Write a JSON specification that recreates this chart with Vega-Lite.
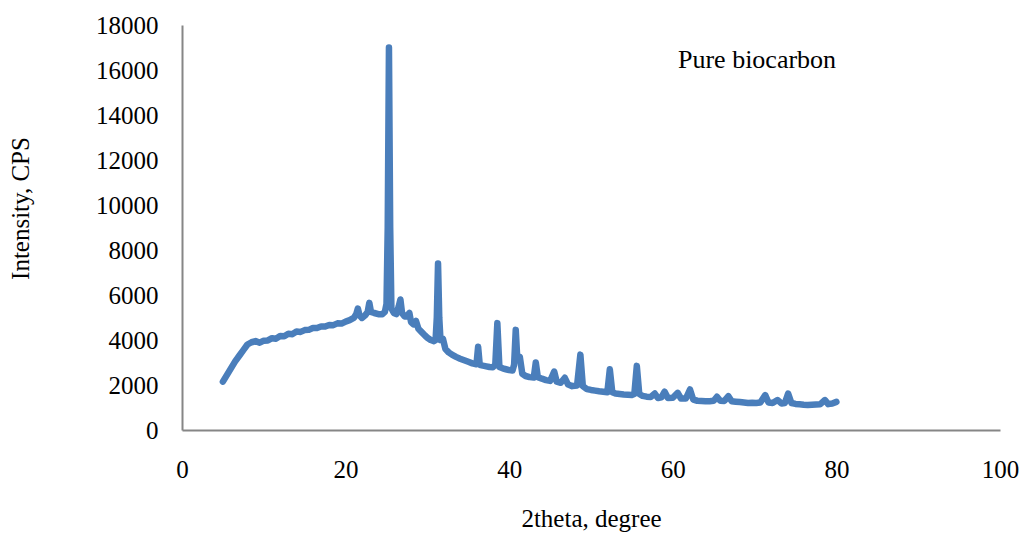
{
  "$schema": "https://vega.github.io/schema/vega-lite/v6.json",
  "autosize": "none",
  "width": 818,
  "height": 405,
  "padding": {"left": 182, "top": 25, "right": 23, "bottom": 103},
  "background": "white",
  "config": {
    "view": {"stroke": null},
    "font": "Liberation Serif",
    "axis": {"labelFont": "Liberation Serif", "titleFont": "Liberation Serif", "labelFontSize": 25, "titleFontSize": 25, "labelColor": "black", "titleColor": "black", "titleFontWeight": "normal", "grid": false, "ticks": false, "labelFlush": false, "labelOverlap": false, "domainColor": "#868686", "domainWidth": 2}
  },
  "layer": [
    {
      "data": {"values": [
        {"x":5.0,"y":2150},{"x":5.5,"y":2450},{"x":6.0,"y":2750},{"x":6.5,"y":3050},{"x":7.0,"y":3300},{"x":7.5,"y":3550},{"x":8.0,"y":3800},{"x":8.5,"y":3900},{"x":9.0,"y":3950},{"x":9.5,"y":3880},{"x":10.0,"y":3970},{"x":10.5,"y":3980},{"x":11.0,"y":4080},{"x":11.5,"y":4060},{"x":12.0,"y":4180},{"x":12.5,"y":4170},{"x":13.0,"y":4280},{"x":13.5,"y":4260},{"x":14.0,"y":4380},{"x":14.5,"y":4360},{"x":15.0,"y":4440},{"x":15.5,"y":4450},{"x":16.0,"y":4530},{"x":16.5,"y":4530},{"x":17.0,"y":4600},{"x":17.5,"y":4600},{"x":18.0,"y":4670},{"x":18.5,"y":4660},{"x":19.0,"y":4740},{"x":19.5,"y":4730},{"x":20.0,"y":4820},{"x":20.5,"y":4880},{"x":21.0,"y":4980},{"x":21.3,"y":5150},{"x":21.5,"y":5400},{"x":21.7,"y":5100},{"x":22.0,"y":4980},{"x":22.4,"y":5100},{"x":22.7,"y":5250},{"x":22.9,"y":5650},{"x":23.1,"y":5250},{"x":23.5,"y":5200},{"x":24.0,"y":5150},{"x":24.5,"y":5150},{"x":24.8,"y":5250},{"x":25.0,"y":5600},{"x":25.15,"y":9000},{"x":25.3,"y":17000},{"x":25.45,"y":9000},{"x":25.6,"y":5400},{"x":25.9,"y":5200},{"x":26.2,"y":5150},{"x":26.5,"y":5500},{"x":26.7,"y":5800},{"x":26.9,"y":5200},{"x":27.2,"y":5050},{"x":27.5,"y":5050},{"x":27.8,"y":5200},{"x":28.0,"y":4800},{"x":28.3,"y":4700},{"x":28.6,"y":4850},{"x":28.9,"y":4500},{"x":29.3,"y":4350},{"x":29.7,"y":4200},{"x":30.0,"y":4100},{"x":30.4,"y":4000},{"x":30.8,"y":3950},{"x":31.0,"y":4000},{"x":31.15,"y":5000},{"x":31.3,"y":7400},{"x":31.45,"y":5000},{"x":31.6,"y":4000},{"x":31.9,"y":4050},{"x":32.2,"y":3600},{"x":32.6,"y":3450},{"x":33.0,"y":3350},{"x":33.5,"y":3250},{"x":34.0,"y":3170},{"x":34.5,"y":3100},{"x":35.0,"y":3030},{"x":35.5,"y":2960},{"x":36.0,"y":2920},{"x":36.2,"y":3700},{"x":36.4,"y":2900},{"x":36.8,"y":2860},{"x":37.2,"y":2830},{"x":37.6,"y":2800},{"x":38.0,"y":2790},{"x":38.3,"y":2900},{"x":38.55,"y":4750},{"x":38.8,"y":2800},{"x":39.2,"y":2740},{"x":39.6,"y":2700},{"x":40.0,"y":2660},{"x":40.4,"y":2640},{"x":40.6,"y":2900},{"x":40.8,"y":4450},{"x":41.0,"y":3100},{"x":41.3,"y":3250},{"x":41.6,"y":2500},{"x":42.0,"y":2400},{"x":42.5,"y":2350},{"x":43.0,"y":2330},{"x":43.25,"y":3000},{"x":43.5,"y":2350},{"x":44.0,"y":2280},{"x":44.5,"y":2220},{"x":45.0,"y":2180},{"x":45.5,"y":2600},{"x":45.8,"y":2150},{"x":46.3,"y":2100},{"x":46.8,"y":2320},{"x":47.2,"y":2020},{"x":47.7,"y":1950},{"x":48.3,"y":1980},{"x":48.7,"y":3350},{"x":49.0,"y":1950},{"x":49.5,"y":1820},{"x":50.0,"y":1780},{"x":50.5,"y":1750},{"x":51.0,"y":1720},{"x":51.5,"y":1700},{"x":52.0,"y":1680},{"x":52.3,"y":2700},{"x":52.6,"y":1680},{"x":53.0,"y":1620},{"x":53.5,"y":1600},{"x":54.0,"y":1580},{"x":54.5,"y":1570},{"x":55.0,"y":1560},{"x":55.3,"y":1600},{"x":55.6,"y":2850},{"x":55.9,"y":1600},{"x":56.3,"y":1520},{"x":56.8,"y":1480},{"x":57.3,"y":1470},{"x":57.8,"y":1620},{"x":58.2,"y":1420},{"x":58.6,"y":1450},{"x":59.0,"y":1700},{"x":59.4,"y":1420},{"x":60.0,"y":1430},{"x":60.6,"y":1650},{"x":61.0,"y":1400},{"x":61.6,"y":1400},{"x":62.1,"y":1800},{"x":62.5,"y":1350},{"x":63.0,"y":1300},{"x":63.5,"y":1290},{"x":64.0,"y":1280},{"x":64.5,"y":1280},{"x":65.0,"y":1300},{"x":65.4,"y":1480},{"x":65.8,"y":1300},{"x":66.3,"y":1290},{"x":66.8,"y":1500},{"x":67.2,"y":1280},{"x":67.7,"y":1260},{"x":68.2,"y":1240},{"x":68.7,"y":1220},{"x":69.2,"y":1200},{"x":69.7,"y":1210},{"x":70.2,"y":1200},{"x":70.7,"y":1220},{"x":71.3,"y":1550},{"x":71.7,"y":1220},{"x":72.2,"y":1200},{"x":72.8,"y":1330},{"x":73.3,"y":1180},{"x":73.7,"y":1200},{"x":74.1,"y":1620},{"x":74.5,"y":1200},{"x":75.0,"y":1160},{"x":75.5,"y":1140},{"x":76.0,"y":1120},{"x":76.5,"y":1110},{"x":77.0,"y":1120},{"x":77.5,"y":1130},{"x":78.0,"y":1140},{"x":78.6,"y":1330},{"x":79.0,"y":1150},{"x":79.5,"y":1180},{"x":80.0,"y":1250}
      ]},
      "mark": {"type": "line", "color": "#4a7ebb", "strokeWidth": 6.5, "strokeJoin": "round", "strokeCap": "round"},
      "encoding": {
        "x": {"field": "x", "type": "quantitative", "scale": {"domain": [0, 100], "nice": false}, "axis": {"values": [0, 20, 40, 60, 80, 100], "title": "2theta, degree", "labelPadding": 27, "titlePadding": 24}},
        "y": {"field": "y", "type": "quantitative", "scale": {"domain": [0, 18000], "nice": false}, "axis": {"values": [0, 2000, 4000, 6000, 8000, 10000, 12000, 14000, 16000, 18000], "title": "Intensity, CPS", "labelPadding": 24, "titleX": -149, "titleY": 183, "format": "d"}}
      }
    },
    {
      "data": {"values": [{"x": 70.3, "y": 16440, "label": "Pure biocarbon"}]},
      "mark": {"type": "text", "font": "Liberation Serif", "fontSize": 26, "color": "black", "align": "center", "baseline": "middle"},
      "encoding": {
        "x": {"field": "x", "type": "quantitative"},
        "y": {"field": "y", "type": "quantitative"},
        "text": {"field": "label"}
      }
    }
  ]
}
